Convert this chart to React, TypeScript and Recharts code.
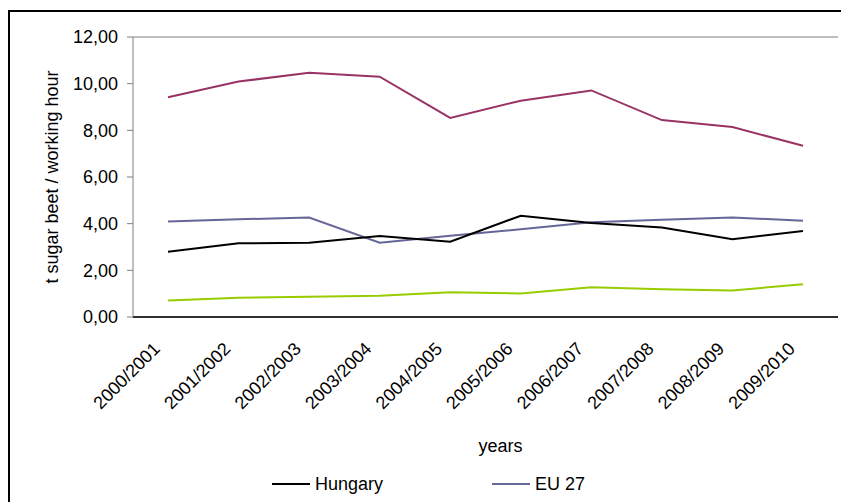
import React from 'react'
import { LineChart, Line, XAxis, YAxis, CartesianGrid } from 'recharts'

const years = [
  '2000/2001', '2001/2002', '2002/2003', '2003/2004', '2004/2005',
  '2005/2006', '2006/2007', '2007/2008', '2008/2009', '2009/2010',
]
const hungary = [2.8, 3.16, 3.18, 3.47, 3.23, 4.34, 4.03, 3.84, 3.33, 3.69]
const eu27 = [4.09, 4.19, 4.26, 3.18, 3.48, 3.76, 4.06, 4.17, 4.26, 4.13]
// the legend rows for these two are cut off in the picture
const upper = [9.42, 10.09, 10.47, 10.3, 8.53, 9.27, 9.71, 8.44, 8.14, 7.34]
const lower = [0.71, 0.83, 0.87, 0.91, 1.06, 1.01, 1.27, 1.19, 1.14, 1.4]
const yTicks = [0, 2, 4, 6, 8, 10, 12]

const data = years.map((y, i) => ({
  year: y,
  hungary: hungary[i],
  eu27: eu27[i],
  upper: upper[i],
  lower: lower[i],
}))

const FONT = '"Liberation Sans", Arial, sans-serif'

const fmt = (v: number) => v.toFixed(2).replace('.', ',')

function YearTick({ x, y, payload }: any) {
  return (
    <g transform={`translate(${x - 7},${y + 33})`}>
      <text x={0} y={0} textAnchor="end" transform="rotate(-45)" fontSize={18} fill="#000" fontFamily={FONT}>
        {payload.value}
      </text>
    </g>
  )
}

const legendItems = [
  { name: 'Hungary', color: '#000000', left: 264 },
  { name: 'EU 27', color: '#666699', left: 484 },
]

export default function App() {
  return (
    <div style={{ position: 'relative', width: 841, height: 494, fontFamily: FONT, overflow: 'hidden' }}>
      <div style={{ position: 'absolute', left: 0, top: 2, width: 841, height: 500, borderTop: '2px solid #000', borderLeft: '2px solid #000' }} />
      <LineChart width={841} height={494} data={data} margin={{ top: 29, right: 11, left: 0, bottom: 0 }}>
        <CartesianGrid vertical={false} stroke="#7f7f7f" />
        <XAxis
          dataKey="year"
          height={185}
          padding={{ left: 35, right: 35 }}
          tick={<YearTick />}
          tickLine={false}
          tickSize={0}
          tickMargin={0}
          interval={0}
          axisLine={{ stroke: '#000', strokeWidth: 1.5 }}
          label={{ value: 'years', position: 'insideTop', offset: 122, dx: 15, fontSize: 18, fill: '#000', fontFamily: FONT }}
        />
        <YAxis
          yAxisId="left"
          width={125}
          domain={[0, 12]}
          ticks={yTicks}
          tickFormatter={fmt}
          tick={{ fill: '#000', fontSize: 18, fontFamily: FONT }}
          tickSize={6}
          tickMargin={9}
          tickLine={{ stroke: '#7f7f7f' }}
          axisLine={{ stroke: '#7f7f7f' }}
          label={{
            value: 't sugar beet / working hour',
            angle: -90,
            position: 'insideLeft',
            offset: 44,
            fontSize: 18,
            fill: '#000',
            fontFamily: FONT,
            style: { textAnchor: 'middle' },
          }}
        />
        <YAxis
          yAxisId="right"
          orientation="right"
          width={0}
          domain={[0, 12]}
          tick={false}
          tickLine={false}
          axisLine={{ stroke: '#c0c0c0', strokeWidth: 2 }}
        />
        <Line yAxisId="left" type="linear" dataKey="upper" stroke="#993366" strokeWidth={2} dot={false} isAnimationActive={false} />
        <Line yAxisId="left" type="linear" dataKey="eu27" stroke="#666699" strokeWidth={2} dot={false} isAnimationActive={false} />
        <Line yAxisId="left" type="linear" dataKey="hungary" stroke="#000000" strokeWidth={2} dot={false} isAnimationActive={false} />
        <Line yAxisId="left" type="linear" dataKey="lower" stroke="#99cc00" strokeWidth={2} dot={false} isAnimationActive={false} />
      </LineChart>
      {legendItems.map((it) => (
        <div key={it.name} style={{ position: 'absolute', left: it.left, top: 466, display: 'flex', alignItems: 'center', fontSize: 18, lineHeight: '20px', color: '#000' }}>
          <span style={{ display: 'inline-block', width: 38, height: 2, background: it.color, marginRight: 5 }} />
          <span>{it.name}</span>
        </div>
      ))}
    </div>
  )
}
